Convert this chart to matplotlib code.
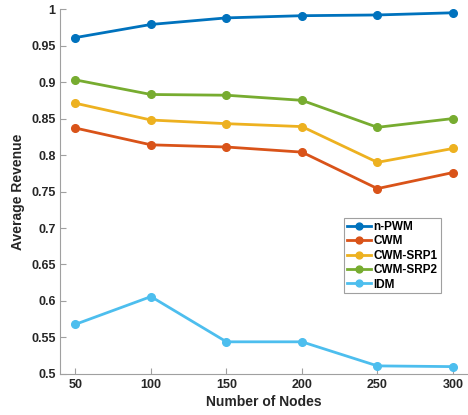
import matplotlib
matplotlib.use("Agg")
import matplotlib.pyplot as plt

# data
nodes = [50, 100, 150, 200, 250, 300]
n_pwm = [0.961, 0.979, 0.988, 0.991, 0.992, 0.995]
cwm = [0.837, 0.814, 0.811, 0.804, 0.754, 0.776]
cwm_srp1 = [0.871, 0.848, 0.843, 0.839, 0.790, 0.809]
cwm_srp2 = [0.903, 0.883, 0.882, 0.875, 0.838, 0.850]
idm = [0.568, 0.606, 0.544, 0.544, 0.511, 0.510]

series = [
    ("n-PWM", n_pwm, "#0072BD"),
    ("CWM", cwm, "#D95319"),
    ("CWM-SRP1", cwm_srp1, "#EDB120"),
    ("CWM-SRP2", cwm_srp2, "#77AC30"),
    ("IDM", idm, "#4DBEEE"),
]

plt.rcParams['font.family'] = ['Liberation Sans', 'DejaVu Sans']

fig = plt.figure(figsize=(4.68, 4.15), dpi=100)
ax = fig.add_axes([0.129, 0.099, 0.871, 0.879])

for name, vals, col in series:
    ax.plot(nodes, vals, '-o', color=col, lw=2, ms=5.5, label=name)

ax.set_xlim(40, 310)
ax.set_ylim(0.5, 1.0)
ax.set_xticks(nodes)
ax.set_yticks([0.5, 0.55, 0.6, 0.65, 0.7, 0.75, 0.8, 0.85, 0.9, 0.95, 1.0])
ax.set_yticklabels(['0.5', '0.55', '0.6', '0.65', '0.7', '0.75', '0.8', '0.85', '0.9', '0.95', '1'])

for s in ['top', 'right']:
    ax.spines[s].set_visible(False)
for s in ['left', 'bottom']:
    ax.spines[s].set_color('#a0a0a0')
    ax.spines[s].set_linewidth(0.8)
ax.tick_params(direction='in', length=4, color='#a0a0a0', labelcolor='#262626',
               labelsize=9)
for lab in ax.get_xticklabels() + ax.get_yticklabels():
    lab.set_fontweight('bold')

ax.set_xlabel('Number of Nodes', fontsize=10, fontweight='bold', color='#262626', labelpad=3)
ax.set_ylabel('Average Revenue', fontsize=10, fontweight='bold', color='#262626', labelpad=4)

leg = ax.legend(loc='upper left', bbox_to_anchor=(0.696, 0.427), borderaxespad=0,
                prop={'weight': 'bold', 'size': 8.5}, handlelength=2.0,
                handletextpad=0.25, labelspacing=0.2, borderpad=0.25,
                fancybox=False, framealpha=1, markerscale=0.9)
leg.get_frame().set_edgecolor('#a0a0a0')
leg.get_frame().set_linewidth(0.8)

fig.savefig('out.png', dpi=100)
